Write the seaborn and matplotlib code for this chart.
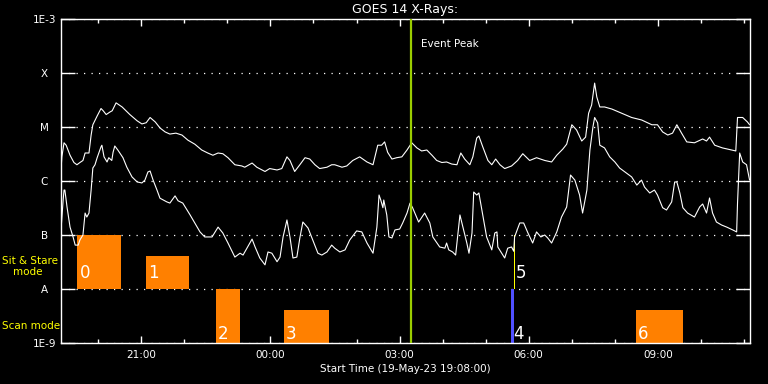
import pandas as pd
import seaborn as sns
import matplotlib
matplotlib.use("Agg")
import matplotlib.pyplot as plt
import matplotlib.dates as mdates
from matplotlib.ticker import NullLocator

# inicio da janela e pico do evento
inicio = pd.Timestamp("2023-05-19 19:08:00")
fim_h = 16.01
pico = pd.Timestamp("2023-05-20 03:16:00")

# canal longo (1-8 A): horas desde o inicio e fluxo (W/m2)
long_h = [0.00, 0.02, 0.07, 0.12, 0.21, 0.30, 0.37, 0.44, 0.51, 0.56,
          0.65, 0.70, 0.74, 0.84, 0.93, 0.98, 1.05, 1.14, 1.19, 1.28,
          1.42, 1.60, 1.77, 1.88, 1.98, 2.07, 2.19, 2.30, 2.42, 2.53,
          2.67, 2.81, 2.95, 3.11, 3.27, 3.41, 3.53, 3.65, 3.76, 3.88,
          4.04, 4.20, 4.27, 4.44, 4.55, 4.74, 4.85, 5.02, 5.13, 5.25,
          5.32, 5.43, 5.55, 5.67, 5.78, 5.90, 6.01, 6.18, 6.29, 6.36,
          6.53, 6.64, 6.78, 6.94, 7.11, 7.25, 7.36, 7.45, 7.52, 7.59,
          7.69, 7.80, 7.92, 8.04, 8.15, 8.27, 8.38, 8.50, 8.62, 8.73,
          8.85, 8.96, 9.08, 9.20, 9.29, 9.38, 9.50, 9.57, 9.66, 9.71,
          9.80, 9.92, 10.01, 10.10, 10.20, 10.31, 10.47, 10.61, 10.73, 10.89,
          11.05, 11.24, 11.40, 11.52, 11.66, 11.75, 11.87, 11.98, 12.10, 12.19,
          12.26, 12.33, 12.40, 12.45, 12.52, 12.63, 12.80, 13.03, 13.26, 13.49,
          13.73, 13.86, 13.98, 14.10, 14.21, 14.31, 14.42, 14.54, 14.72, 14.91,
          15.00, 15.07, 15.19, 15.37, 15.58, 15.68, 15.72, 15.84, 15.95, 16.00]
long_fluxo = [1.6e-6, 2.8e-6, 5.1e-6, 4.6e-6, 3.0e-6, 2.2e-6, 2.0e-6, 2.2e-6, 2.4e-6, 3.3e-6,
              3.3e-6, 7.1e-6, 1.1e-5, 1.6e-5, 2.2e-5, 2.0e-5, 1.7e-5, 1.9e-5, 2.0e-5, 2.8e-5,
              2.35e-5, 1.7e-5, 1.3e-5, 1.14e-5, 1.2e-5, 1.5e-5, 1.24e-5, 9.6e-6, 8.1e-6, 7.4e-6,
              7.7e-6, 7.1e-6, 5.7e-6, 4.8e-6, 3.75e-6, 3.3e-6, 3.0e-6, 3.3e-6, 3.2e-6, 2.7e-6,
              2.0e-6, 1.9e-6, 1.8e-6, 2.15e-6, 1.8e-6, 1.5e-6, 1.7e-6, 1.6e-6, 1.7e-6, 2.8e-6,
              2.4e-6, 1.5e-6, 2.0e-6, 2.7e-6, 2.55e-6, 2.0e-6, 1.7e-6, 1.8e-6, 2.0e-6, 2.0e-6,
              1.8e-6, 1.9e-6, 2.4e-6, 2.8e-6, 2.25e-6, 2.0e-6, 4.6e-6, 4.6e-6, 5.3e-6, 3.4e-6,
              2.55e-6, 2.7e-6, 2.8e-6, 3.75e-6, 5.1e-6, 4.1e-6, 3.6e-6, 3.75e-6, 3.0e-6, 2.4e-6,
              2.2e-6, 2.25e-6, 2.06e-6, 2.0e-6, 3.3e-6, 2.55e-6, 2.0e-6, 2.8e-6, 6.25e-6, 6.8e-6,
              4.3e-6, 2.4e-6, 2.0e-6, 2.55e-6, 2.0e-6, 1.7e-6, 1.9e-6, 2.4e-6, 3.2e-6, 2.4e-6,
              2.7e-6, 2.4e-6, 2.25e-6, 3.0e-6, 3.9e-6, 4.8e-6, 1.1e-5, 8.8e-6, 5.5e-6, 6.5e-6,
              1.8e-5, 2.55e-5, 6.5e-5, 3.6e-5, 2.35e-5, 2.35e-5, 2.15e-5, 1.8e-5, 1.5e-5, 1.35e-5,
              1.1e-5, 1.1e-5, 8.1e-6, 7.1e-6, 7.7e-6, 1.1e-5, 7.7e-6, 5.3e-6, 5.1e-6, 6.0e-6,
              5.5e-6, 6.5e-6, 4.6e-6, 4.1e-6, 3.75e-6, 3.6e-6, 1.5e-5, 1.5e-5, 1.24e-5, 1.1e-5]

# canal curto (0.5-4 A)
curto_h = [0.00, 0.05, 0.07, 0.09, 0.14, 0.21, 0.28, 0.33, 0.40, 0.44,
           0.51, 0.56, 0.60, 0.65, 0.70, 0.74, 0.79, 0.84, 0.93, 0.95,
           1.00, 1.07, 1.11, 1.18, 1.21, 1.25, 1.32, 1.44, 1.53, 1.65,
           1.77, 1.88, 1.95, 2.02, 2.07, 2.14, 2.23, 2.30, 2.46, 2.53,
           2.65, 2.72, 2.83, 3.00, 3.11, 3.23, 3.34, 3.51, 3.65, 3.76,
           3.88, 4.04, 4.16, 4.23, 4.32, 4.44, 4.51, 4.62, 4.74, 4.81,
           4.90, 5.02, 5.09, 5.16, 5.25, 5.32, 5.39, 5.48, 5.55, 5.62,
           5.74, 5.85, 5.97, 6.06, 6.18, 6.29, 6.36, 6.48, 6.60, 6.71,
           6.87, 6.99, 7.11, 7.25, 7.34, 7.39, 7.43, 7.48, 7.50, 7.57,
           7.62, 7.69, 7.76, 7.87, 7.94, 8.04, 8.11, 8.17, 8.24, 8.31,
           8.45, 8.57, 8.64, 8.80, 8.92, 8.96, 9.01, 9.10, 9.17, 9.27,
           9.34, 9.43, 9.48, 9.55, 9.59, 9.66, 9.71, 9.78, 9.89, 10.01,
           10.08, 10.13, 10.15, 10.24, 10.31, 10.38, 10.47, 10.52, 10.54, 10.66,
           10.75, 10.85, 10.96, 11.05, 11.15, 11.24, 11.31, 11.40, 11.52, 11.63,
           11.75, 11.84, 11.94, 12.05, 12.12, 12.22, 12.29, 12.36, 12.40, 12.47,
           12.52, 12.63, 12.75, 12.87, 12.98, 13.14, 13.26, 13.38, 13.49, 13.56,
           13.68, 13.79, 13.86, 13.98, 14.07, 14.19, 14.26, 14.31, 14.38, 14.45,
           14.56, 14.72, 14.84, 14.91, 15.00, 15.07, 15.14, 15.23, 15.35, 15.47,
           15.61, 15.70, 15.72, 15.77, 15.84, 15.93, 16.00]
curto_fluxo = [1.24e-7, 4.45e-7, 6.8e-7, 6.8e-7, 3.3e-7, 1.4e-7, 9.2e-8, 6.5e-8, 6.5e-8, 8.1e-8,
               1.0e-7, 2.55e-7, 2.15e-7, 2.55e-7, 6.8e-7, 1.74e-6, 2.0e-6, 2.7e-6, 4.3e-6, 4.6e-6,
               2.8e-6, 2.25e-6, 2.7e-6, 2.4e-6, 3.4e-6, 4.45e-6, 3.75e-6, 2.7e-6, 1.8e-6, 1.19e-6,
               9.6e-7, 9.2e-7, 1.04e-6, 1.47e-6, 1.53e-6, 1.04e-6, 6.8e-7, 4.8e-7, 4.1e-7, 3.9e-7,
               5.3e-7, 4.3e-7, 3.9e-7, 2.35e-7, 1.67e-7, 1.14e-7, 9.2e-8, 9.2e-8, 1.4e-7, 1.09e-7,
               7.1e-8, 3.9e-8, 4.6e-8, 4.25e-8, 5.7e-8, 8.4e-8, 6.0e-8, 3.75e-8, 2.8e-8, 4.85e-8,
               4.6e-8, 3.2e-8, 3.9e-8, 9.2e-8, 1.9e-7, 9.2e-8, 3.75e-8, 3.9e-8, 8.8e-8, 1.74e-7,
               1.35e-7, 8.1e-8, 4.6e-8, 4.25e-8, 4.85e-8, 6.5e-8, 5.7e-8, 4.85e-8, 5.3e-8, 8.1e-8,
               1.19e-7, 1.14e-7, 7.1e-8, 4.6e-8, 1.4e-7, 5.5e-7, 4.45e-7, 3.2e-7, 4.45e-7, 2.35e-7,
               9.2e-8, 8.8e-8, 1.24e-7, 1.29e-7, 1.67e-7, 2.55e-7, 3.9e-7, 3.2e-7, 2.35e-7, 1.74e-7,
               2.55e-7, 1.67e-7, 9.2e-8, 6.0e-8, 5.7e-8, 7.1e-8, 5.3e-8, 4.85e-8, 4.25e-8, 2.35e-7,
               1.4e-7, 7.1e-8, 4.6e-8, 1.09e-7, 6.25e-7, 5.5e-7, 6.0e-7, 2.9e-7, 9.2e-8, 5.3e-8,
               1.09e-7, 1.14e-7, 6.0e-8, 4.6e-8, 3.75e-8, 5.7e-8, 6.0e-8, 5.0e-8, 9.2e-8, 1.67e-7,
               1.67e-7, 1.09e-7, 7.1e-8, 1.14e-7, 9.2e-8, 1.0e-7, 8.8e-8, 7.1e-8, 1.14e-7, 2.15e-7,
               3.3e-7, 1.29e-6, 1.04e-6, 5.5e-7, 2.55e-7, 6.8e-7, 3.75e-6, 1.0e-5, 1.5e-5, 1.19e-5,
               4.6e-6, 4.1e-6, 2.8e-6, 2.25e-6, 1.74e-6, 1.4e-6, 1.19e-6, 8.4e-7, 1.04e-6, 7.7e-7,
               6.0e-7, 6.8e-7, 5.5e-7, 3.2e-7, 2.9e-7, 4.1e-7, 9.6e-7, 9.6e-7, 6.0e-7, 3.2e-7,
               2.55e-7, 2.15e-7, 3.3e-7, 3.75e-7, 2.55e-7, 4.85e-7, 2.55e-7, 1.74e-7, 1.53e-7, 1.4e-7,
               1.24e-7, 1.14e-7, 3.9e-7, 3.3e-6, 2.25e-6, 2.0e-6, 1.04e-6]

# observacoes (0-6): inicio, fim, faixa vertical
obs_inicio = ["2023-05-19 19:31", "2023-05-19 21:06", "2023-05-19 22:44", "2023-05-20 00:19",
              "2023-05-20 05:36", "2023-05-20 05:39:30", "2023-05-20 08:30"]
obs_fim = ["2023-05-19 20:31", "2023-05-19 22:07", "2023-05-19 23:17", "2023-05-20 01:21",
           "2023-05-20 05:40", "2023-05-20 05:41", "2023-05-20 09:35"]
obs_baixo = [1e-8, 1e-8, 1e-9, 1e-9, 1e-9, 1e-8, 1e-9]
obs_alto = [1e-7, 4.1e-8, 1e-8, 4.1e-9, 1e-8, 1e-7, 4.1e-9]
obs_cor = ["#ff8000", "#ff8000", "#ff8000", "#ff8000", "#5050ff", "#ffff00", "#ff8000"]

niveis = [1e-9, 1e-8, 1e-7, 1e-6, 1e-5, 1e-4, 1e-3]
rotulos = ["1E-9", "A", "B", "C", "M", "X", "1E-3"]

sns.set_theme(style="dark", rc={
    "figure.facecolor": "black", "axes.facecolor": "black",
    "axes.edgecolor": "white", "axes.linewidth": 1.0,
    "text.color": "white", "axes.labelcolor": "white",
    "xtick.color": "white", "ytick.color": "white",
})
plt.rcParams["font.family"] = ["DejaVu Sans"]

fig = plt.figure(figsize=(7.68, 3.84), dpi=100)
ax = fig.add_axes([61 / 768, 41 / 384, 689 / 768, 324 / 384])

df_long = pd.DataFrame({"tempo": inicio + pd.to_timedelta(long_h, unit="h"), "fluxo": long_fluxo})
df_curto = pd.DataFrame({"tempo": inicio + pd.to_timedelta(curto_h, unit="h"), "fluxo": curto_fluxo})

for i in range(len(obs_inicio)):
    t0, t1 = pd.Timestamp(obs_inicio[i]), pd.Timestamp(obs_fim[i])
    ax.fill_between([t0, t1], [obs_baixo[i]] * 2, [obs_alto[i]] * 2,
                    color=obs_cor[i], lw=0, zorder=1)
    desloc = 4 if obs_baixo[i] < 5e-9 else 11
    ax.annotate(str(i), (t0, obs_baixo[i]), xytext=(2, desloc), textcoords="offset pixels",
                color="white", fontsize=12, ha="left", va="baseline", zorder=6)

sns.lineplot(data=df_long, x="tempo", y="fluxo", color="white", lw=0.8,
             estimator=None, sort=False, ax=ax, zorder=3)
sns.lineplot(data=df_curto, x="tempo", y="fluxo", color="white", lw=0.8,
             estimator=None, sort=False, ax=ax, zorder=3)

ax.axvline(pico, color="#9acd00", lw=1.6, zorder=4)
ax.annotate("Event Peak", (pico, 1), xycoords=("data", "axes fraction"),
            xytext=(10, -28), textcoords="offset pixels",
            color="white", fontsize=7.5, va="baseline")

ax.set_yscale("log")
ax.set_ylim(1e-9, 1e-3)
ax.set_xlim(inicio, inicio + pd.Timedelta(hours=fim_h))
ax.set_yticks(niveis, rotulos)
ax.yaxis.set_minor_locator(NullLocator())
for lbl in ax.get_yticklabels():
    lbl.set_ha("center")
ax.yaxis.grid(True, color="white", linestyle=(0, (1, 5)), lw=0.9)

ax.xaxis.set_major_locator(mdates.HourLocator(byhour=[21, 0, 3, 6, 9]))
ax.xaxis.set_minor_locator(mdates.HourLocator())
ax.xaxis.set_major_formatter(mdates.DateFormatter("%H:%M"))

ax.tick_params(axis="both", which="both", direction="in", colors="white",
               bottom=True, top=True, left=True, right=True)
ax.tick_params(axis="x", which="major", length=5, width=1, pad=5, labelsize=7.5)
ax.tick_params(axis="x", which="minor", length=3, width=1)
ax.tick_params(axis="y", which="major", length=10, width=1, pad=12, labelsize=7.5)

for lado in ax.spines.values():
    lado.set_color("white")

ax.set_title("GOES 14 X-Rays:", fontsize=9, pad=4, color="white")
ax.set_xlabel("Start Time (19-May-23 19:08:00)", fontsize=7.5, labelpad=3)
ax.set_ylabel("")

fig.text(2 / 768, 1 - 264 / 384, "Sit & Stare", color="yellow", fontsize=7.5, va="baseline")
fig.text(13 / 768, 1 - 275 / 384, "mode", color="yellow", fontsize=7.5, va="baseline")
fig.text(2 / 768, 1 - 329 / 384, "Scan mode", color="yellow", fontsize=7.5, va="baseline")

fig.savefig("out.png", dpi=100, facecolor="black")
